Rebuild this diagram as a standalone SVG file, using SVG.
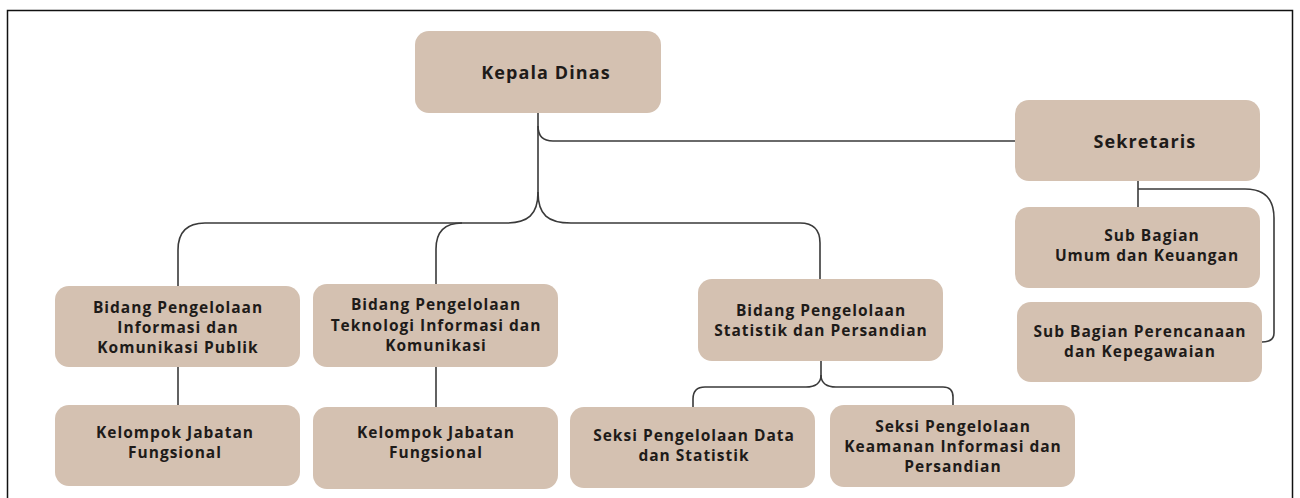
<svg xmlns="http://www.w3.org/2000/svg" width="1300" height="498" viewBox="0 0 1300 498">
<style>
.box{fill:#d4c1b1;}
.t{font-family:"Open Sans","DejaVu Sans",sans-serif;font-weight:700;font-size:15.5px;fill:#1e1b19;text-anchor:middle;letter-spacing:1px;}
.tb{font-size:18px;letter-spacing:1.1px;}
.c{fill:none;stroke:#3a3a3a;stroke-width:1.6;}
</style>
<rect x="0" y="0" width="1300" height="498" fill="#ffffff"/>
<rect x="7.5" y="10.5" width="1285" height="500" fill="none" stroke="#111" stroke-width="1.5"/>
<g id="connectors">
<path class="c" d="M538,113 V126 Q538,141 553,141 H1015"/>
<path class="c" d="M538,126 V192 C538,215 528,223 505,223 H205 Q178,223 178,250 V286"/>
<path class="c" d="M462,223 Q436,223 436,249 V284"/>
<path class="c" d="M538,192 C538,215 548,223 571,223 H800 Q820,223 820,243 V279"/>
<path class="c" d="M178,367 V405"/>
<path class="c" d="M436,367 V407"/>
<path class="c" d="M821,361 V375 C821,383 815,387 806,387 H705 Q693,387 693,399 V407"/>
<path class="c" d="M821,375 C821,383 827,387 836,387 H943 Q953,387 953,397 V405"/>
<path class="c" d="M1138,181 V207"/>
<path class="c" d="M1138,189 H1245 Q1274,189 1274,218 V333 Q1274,342 1262,342"/>
</g>
<g id="kepala-dinas">
<rect class="box" x="415" y="31" width="246" height="82" rx="14"/>
<text class="t tb" x="546" y="79">Kepala Dinas</text>
</g>
<g id="sekretaris">
<rect class="box" x="1015" y="100" width="245" height="81" rx="14"/>
<text class="t tb" x="1145" y="148">Sekretaris</text>
</g>
<g id="sub-umum">
<rect class="box" x="1015" y="207" width="245" height="81" rx="14"/>
<text class="t" x="1152" y="241">Sub Bagian</text>
<text class="t" x="1147" y="261">Umum dan Keuangan</text>
</g>
<g id="sub-perencanaan">
<rect class="box" x="1017" y="302" width="245" height="80" rx="14"/>
<text class="t" x="1140" y="337">Sub Bagian Perencanaan</text>
<text class="t" x="1140" y="357">dan Kepegawaian</text>
</g>
<g id="bidang-ikp">
<rect class="box" x="55" y="286" width="245" height="81" rx="14"/>
<text class="t" x="178" y="313">Bidang Pengelolaan</text>
<text class="t" x="178" y="333">Informasi dan</text>
<text class="t" x="178" y="353">Komunikasi Publik</text>
</g>
<g id="bidang-tik">
<rect class="box" x="313" y="284" width="245" height="83" rx="14"/>
<text class="t" x="436" y="310">Bidang Pengelolaan</text>
<text class="t" x="436" y="331">Teknologi Informasi dan</text>
<text class="t" x="436" y="351">Komunikasi</text>
</g>
<g id="bidang-sp">
<rect class="box" x="698" y="279" width="245" height="82" rx="14"/>
<text class="t" x="821" y="316">Bidang Pengelolaan</text>
<text class="t" x="821" y="336">Statistik dan Persandian</text>
</g>
<g id="kelompok-1">
<rect class="box" x="55" y="405" width="245" height="81" rx="14"/>
<text class="t" x="175" y="438">Kelompok Jabatan</text>
<text class="t" x="175" y="458">Fungsional</text>
</g>
<g id="kelompok-2">
<rect class="box" x="313" y="407" width="245" height="82" rx="14"/>
<text class="t" x="436" y="438">Kelompok Jabatan</text>
<text class="t" x="436" y="458">Fungsional</text>
</g>
<g id="seksi-data">
<rect class="box" x="570" y="407" width="245" height="81" rx="14"/>
<text class="t" x="694" y="441">Seksi Pengelolaan Data</text>
<text class="t" x="694" y="461">dan Statistik</text>
</g>
<g id="seksi-keamanan">
<rect class="box" x="830" y="405" width="245" height="82" rx="14"/>
<text class="t" x="953" y="432">Seksi Pengelolaan</text>
<text class="t" x="953" y="452">Keamanan Informasi dan</text>
<text class="t" x="953" y="472">Persandian</text>
</g>
</svg>
